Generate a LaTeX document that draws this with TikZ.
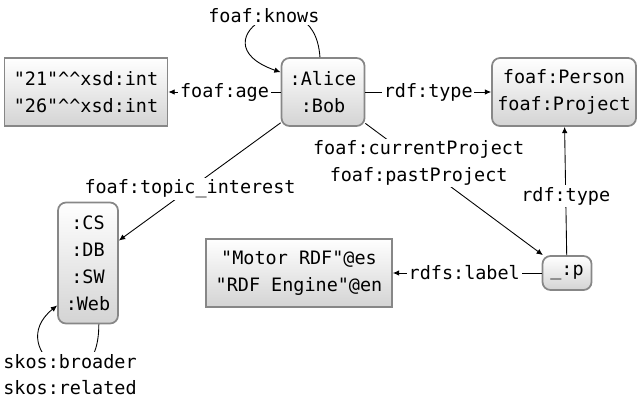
\documentclass[tikz,border=0pt]{standalone}
\usepackage{fontspec}
\newfontfamily\rdffont{DejaVu Sans Mono}
\usetikzlibrary{positioning,arrows.meta}
\newcommand{\dcaret}{\textasciicircum\textasciicircum}
\begin{document}
\begin{tikzpicture}[node distance=4.74cm,
  every node/.style={font=\rdffont\fontsize{10.5}{15.3}\selectfont},
  res/.style={draw=black!47, line width=1pt, rounded corners=.16cm, top color=white, bottom color=black!17, align=center, inner xsep=.15cm, minimum height=1.36cm},
  lit/.style={res, sharp corners},
  lbl/.style={fill=white, inner sep=1pt, align=center},
  arr/.style={line width=.5pt, arrows=-{Latex[length=3.6pt,width=3.2pt]}}]
\useasboundingbox (0,0) rectangle (12.8,-8.06);
\node (alice)[res, minimum width=1.66cm] at (6.46,-1.84) {:Alice\\:Bob};
\node (age)[lit, minimum width=3.26cm] [left of = alice] {"21"\dcaret xsd:int\\"26"\dcaret xsd:int};
\node (person)[res, minimum width=2.88cm, inner xsep=.1cm] [node distance=4.82cm, right of = alice] {foaf:Person\\foaf:Project};
\node (cs)[res, minimum width=1.2cm, minimum height=2.42cm] [node distance=3.42cm, below of = age, xshift=.04cm] {:CS\\:DB\\:SW\\:Web};
\node (p)[res, minimum width=.98cm, minimum height=.68cm] [node distance=3.62cm, below of = person, xshift=.06cm] {\_:p};
\node (motor)[lit, minimum width=3.72cm] [node distance=5.36cm, left of = p] {"Motor RDF"@es\\"RDF Engine"@en};
\draw[arr] (alice) -- node[lbl] (agelbl) {foaf:age} (age);
\draw[arr] (alice) -- node[lbl] (typelbl) {rdf:type} (person);
\draw[arr] (alice) -- node[lbl, pos=.56] (topiclbl) {foaf:topic\_interest} (cs);
\draw[arr] (alice) -- node[lbl, pos=.3] (projlbl) {foaf:currentProject\\foaf:pastProject} (p);
\draw[arr] (p) -- node[lbl, pos=.46] (ptypelbl) {rdf:type} (person);
\draw[arr] (p) -- node[lbl, pos=.52] (plabellbl) {rdfs:label} (motor);
\draw[arr] (alice.95) .. controls +(-0.12,1.76) and +(-1.82,0.64) .. node[lbl, yshift=.08cm] (knowslbl) {foaf:knows} (alice.155);
\draw[arr] (cs.-80) .. controls +(0,-1.8) and +(-1.12,-0.9) .. node[lbl, xshift=.26cm, yshift=-.18cm] (skoslbl) {skos:broader\\skos:related} (cs.234);
\end{tikzpicture}
\end{document}
